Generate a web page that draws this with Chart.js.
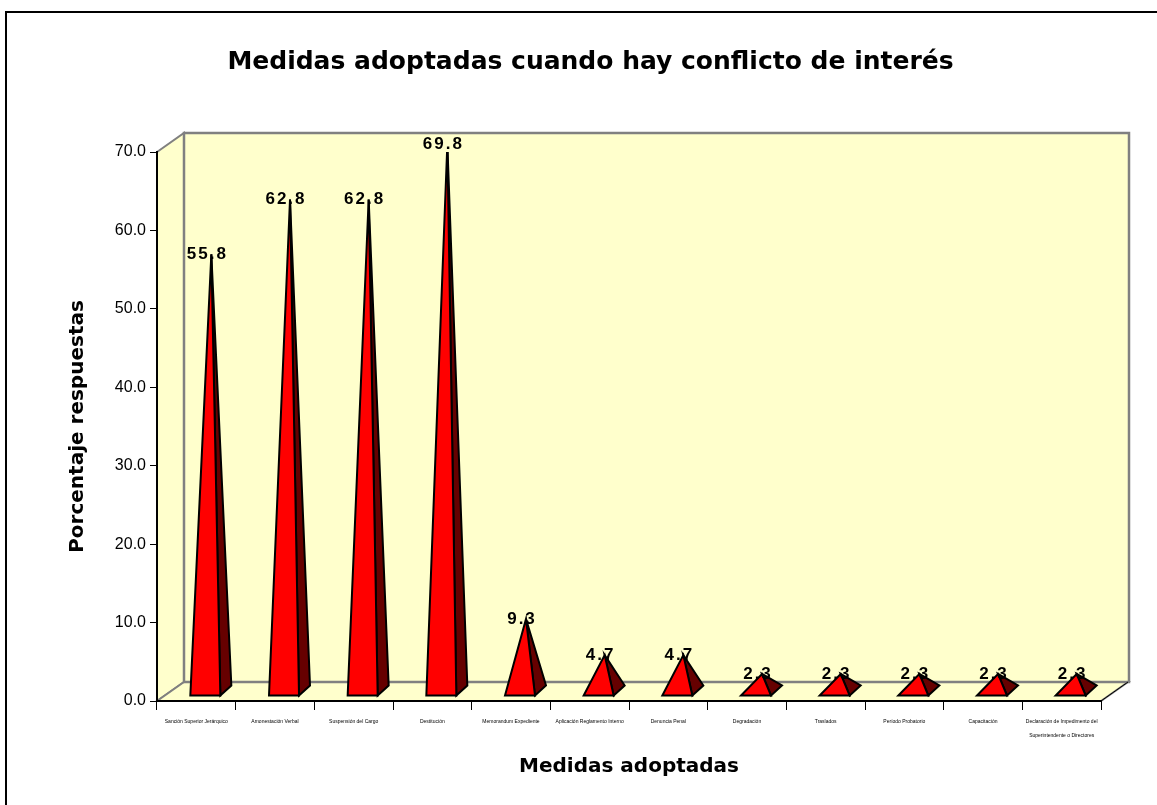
<!DOCTYPE html>
<html><head><meta charset="utf-8">
<style>html,body{margin:0;padding:0;background:#fff}#w{position:relative;width:1157px;height:805px}canvas{display:block}</style>
<script src="https://cdn.jsdelivr.net/npm/chart.js@4"></script>
</head><body><div id="w"><canvas id="c" width="1157" height="805"></canvas></div>
<script>
const chartTitle = 'Medidas adoptadas cuando hay conflicto de interés';
const xAxisTitle = 'Medidas adoptadas';
const yAxisTitle = 'Porcentaje respuestas';
const categories = [
  'Sanción Superior Jerárquico','Amonestación Verbal','Suspensión del Cargo','Destitución',
  'Memorandum Expediente','Aplicación Reglamento Interno','Denuncia Penal','Degradación',
  'Traslados','Período Probatorio','Capacitación',
  ['Declaración de Impedimento del','Superintendente o Directores']
];
const values = [55.8,62.8,62.8,69.8,9.3,4.7,4.7,2.3,2.3,2.3,2.3,2.3];

const DEPTH_X = 27, DEPTH_Y = 19;
const { BarController, BarElement } = Chart;

class PyramidElement extends BarElement {
  draw(ctx) {
    const { x, y, base } = this.getProps(['x','y','base'], true);
    const o = this.options;
    const half = 15, cx = x + 9, by = base - 5;
    const apexX = cx + 6, apexY = y - 9;
    const brX = cx + half + 11, brY = by - 10;
    ctx.save();
    ctx.lineWidth = 2; ctx.lineJoin = 'miter'; ctx.strokeStyle = o.borderColor;
    ctx.fillStyle = '#660000';
    ctx.beginPath(); ctx.moveTo(cx + half, by); ctx.lineTo(brX, brY); ctx.lineTo(apexX, apexY); ctx.closePath(); ctx.fill(); ctx.stroke();
    ctx.fillStyle = o.backgroundColor;
    ctx.beginPath(); ctx.moveTo(cx - half, by); ctx.lineTo(cx + half, by); ctx.lineTo(apexX, apexY); ctx.closePath(); ctx.fill(); ctx.stroke();
    ctx.restore();
  }
}
PyramidElement.id = 'pyramid';
PyramidElement.defaults = BarElement.defaults;
PyramidElement.defaultRoutes = BarElement.defaultRoutes;
class PyramidController extends BarController {}
PyramidController.id = 'pyramid';
PyramidController.defaults = Object.assign({}, BarController.defaults, { dataElementType: 'pyramid' });
PyramidController.overrides = BarController.overrides;
Chart.register(PyramidElement, PyramidController);

const walls = {
  id: 'walls',
  afterLayout(chart) { const t = chart.titleBlock; t.left += 40; t.right += 40; },
  beforeDraw(chart) {
    const { ctx, chartArea: a, width, height } = chart;
    ctx.save();
    ctx.fillStyle = '#FFFFCC'; ctx.strokeStyle = '#808080'; ctx.lineWidth = 2;
    ctx.beginPath(); ctx.moveTo(a.left, a.top); ctx.lineTo(a.left + DEPTH_X, a.top - DEPTH_Y);
    ctx.lineTo(a.left + DEPTH_X, a.bottom - DEPTH_Y); ctx.lineTo(a.left, a.bottom); ctx.closePath(); ctx.fill(); ctx.stroke();
    ctx.beginPath(); ctx.moveTo(a.left, a.bottom); ctx.lineTo(a.left + DEPTH_X, a.bottom - DEPTH_Y);
    ctx.lineTo(a.right + DEPTH_X, a.bottom - DEPTH_Y); ctx.lineTo(a.right, a.bottom); ctx.closePath(); ctx.fill(); ctx.stroke();
    ctx.lineWidth = 2.5;
    ctx.beginPath(); ctx.rect(a.left + DEPTH_X, a.top - DEPTH_Y, a.right - a.left + 1, a.bottom - a.top); ctx.fill(); ctx.stroke();
    ctx.strokeStyle = '#000'; ctx.lineWidth = 1;
    ctx.beginPath(); ctx.moveTo(a.right, a.bottom); ctx.lineTo(a.right + DEPTH_X, a.bottom - DEPTH_Y); ctx.stroke();
    ctx.lineWidth = 2;
    ctx.beginPath(); ctx.moveTo(width, 12); ctx.lineTo(6, 12); ctx.lineTo(6, height); ctx.stroke();
    ctx.restore();
  },
  afterDatasetsDraw(chart) {
    const { ctx } = chart;
    const meta = chart.getDatasetMeta(0);
    ctx.save();
    ctx.font = 'bold 17px "Liberation Sans"';
    ctx.letterSpacing = '2px';
    ctx.fillStyle = '#000'; ctx.textAlign = 'center'; ctx.textBaseline = 'middle';
    meta.data.forEach((el, i) => {
      ctx.fillText(values[i].toFixed(1), el.x + 11, el.y - 9);
    });
    ctx.restore();
  }
};

new Chart(document.getElementById('c'), {
  type: 'pyramid',
  data: { labels: categories, datasets: [{ data: values, backgroundColor: '#FF0000', borderColor: '#000000', barThickness: 30 }] },
  plugins: [walls],
  options: {
    responsive: false, animation: false,
    layout: { padding: { right: 56, top: 0, left: 0, bottom: 0 } },
    plugins: {
      legend: { display: false }, tooltip: { enabled: false },
      title: { display: true, text: chartTitle, color: '#000', font: { family: 'DejaVu Sans', size: 25, weight: 'bold' }, padding: { top: 47, bottom: 75 } }
    },
    scales: {
      x: {
        type: 'category', offset: true,
        afterFit(s) { s.height = 104; },
        grid: { drawOnChartArea: false, offset: true, color: '#000', tickLength: 9, tickWidth: 1 },
        border: { color: '#000', width: 2 },
        ticks: { autoSkip: false, maxRotation: 0, minRotation: 0, padding: 5, color: '#000', font: { family: 'Liberation Sans', size: 5, lineHeight: '14px' } },
        title: { display: true, text: xAxisTitle, color: '#000', font: { family: 'DejaVu Sans', size: 20, weight: 'bold' }, padding: { top: 4, bottom: 26 } }
      },
      y: {
        min: 0, max: 70,
        afterFit(s) { s.width = 157; },
        grid: { drawOnChartArea: false, color: '#000', tickLength: 7, tickWidth: 1 },
        border: { color: '#000', width: 2 },
        ticks: { stepSize: 10, padding: 4, color: '#000', font: { family: 'Liberation Sans', size: 16 }, callback: v => v.toFixed(1) },
        title: { display: true, text: yAxisTitle, color: '#000', font: { family: 'DejaVu Sans', size: 20, weight: 'bold' }, padding: { top: 66, bottom: 0 } }
      }
    }
  }
});
</script></body></html>
